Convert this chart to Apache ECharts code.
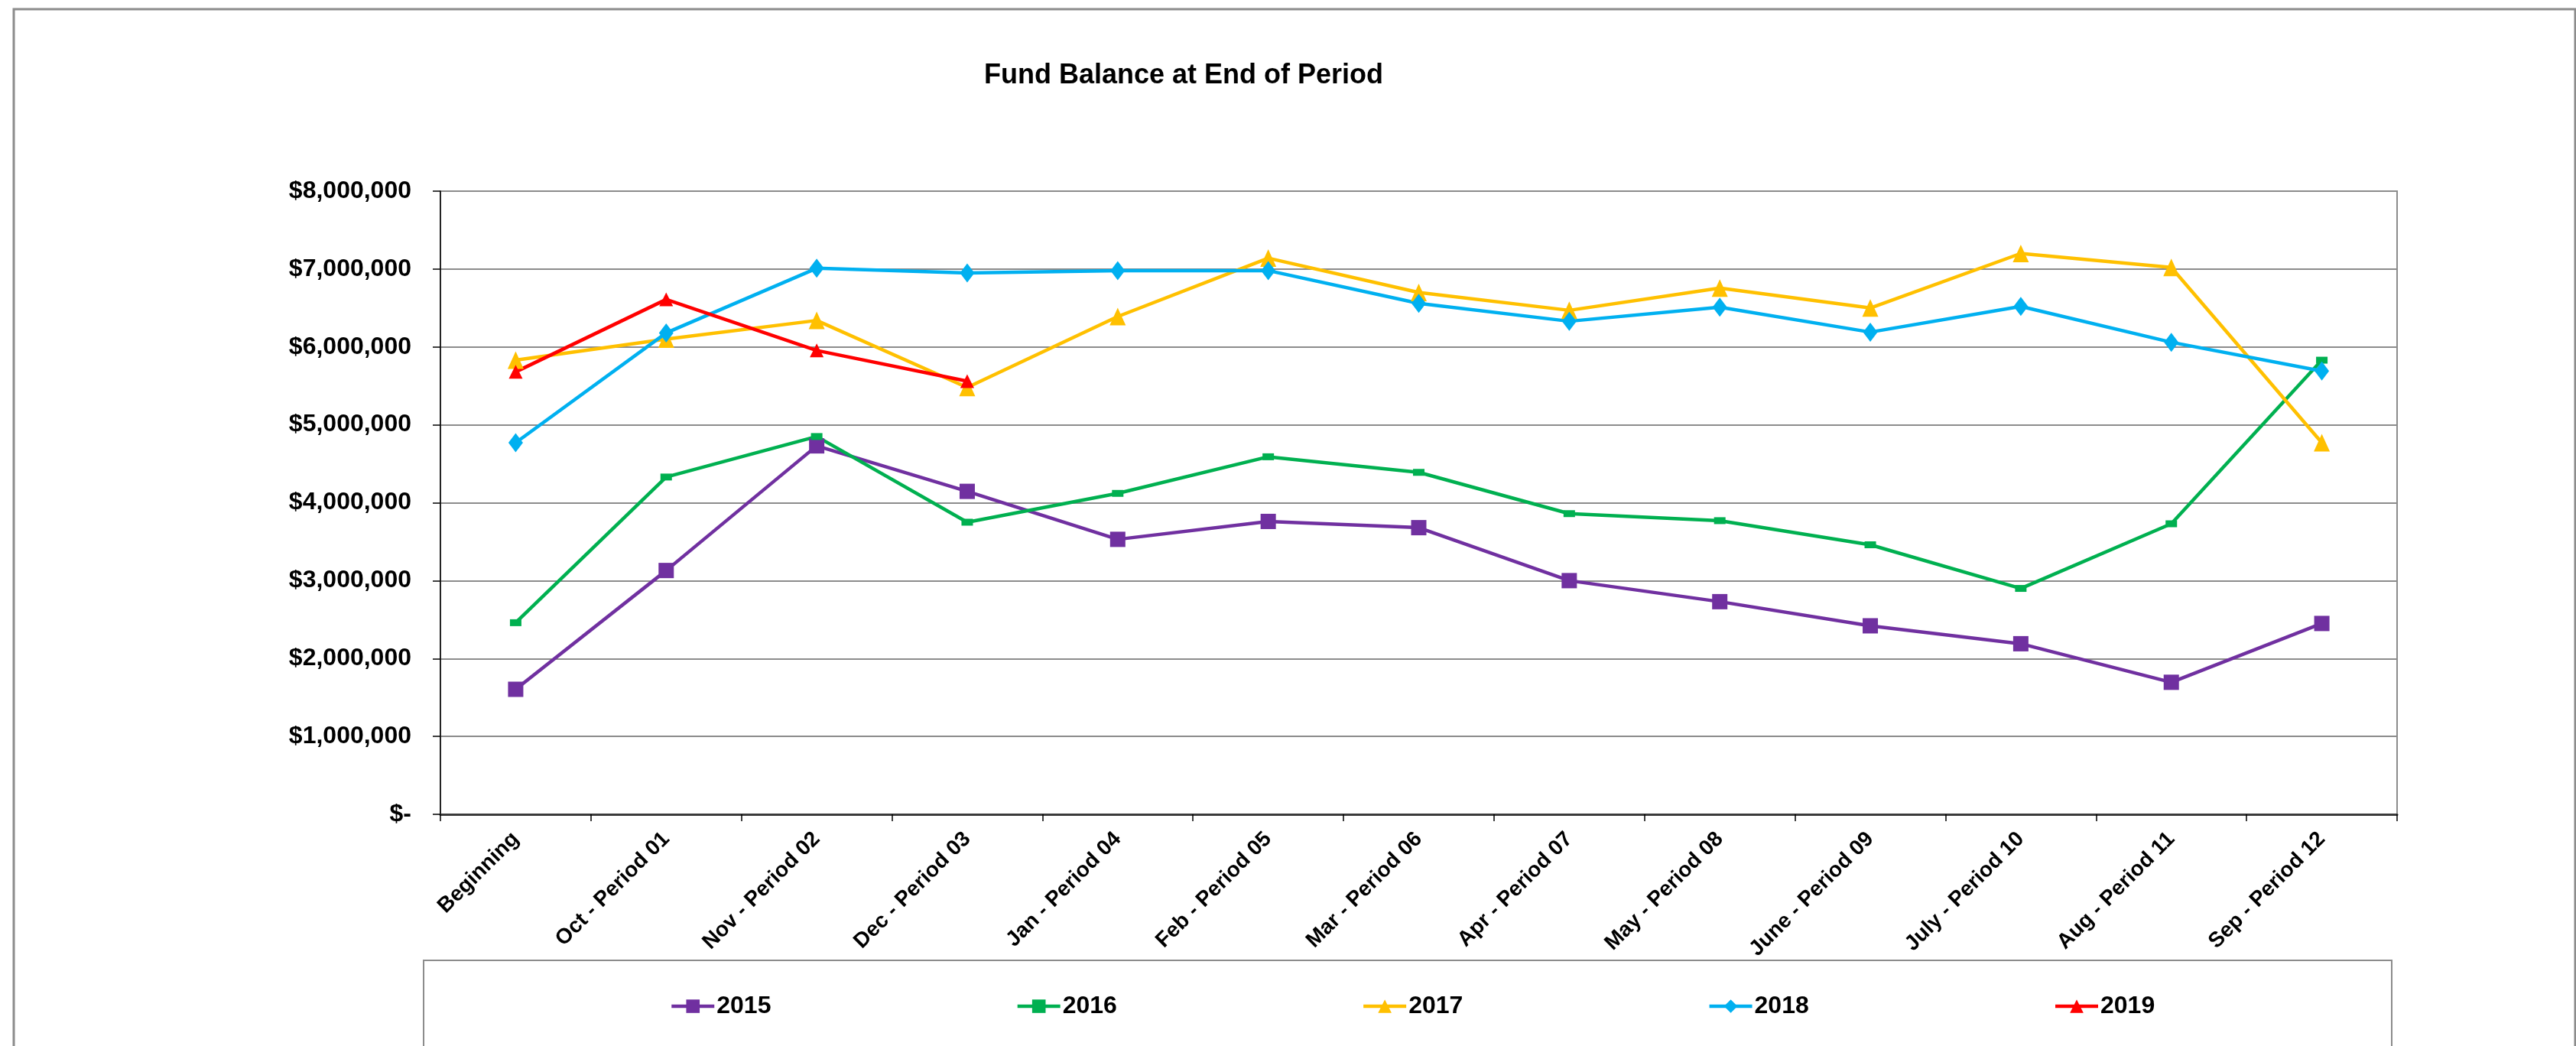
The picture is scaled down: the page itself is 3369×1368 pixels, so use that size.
<!DOCTYPE html>
<html>
<head>
<meta charset="utf-8">
<title>Fund Balance at End of Period</title>
<script src="https://cdn.jsdelivr.net/npm/echarts@6/dist/echarts.min.js"></script>
<style>
  html, body { margin: 0; padding: 0; background: #fff; }
  #chart { width: 3369px; height: 1368px; }
</style>
</head>
<body>
<div id="chart"></div>
<script>
// periods on the x axis
const categories = [
  "Beginning", "Oct - Period 01", "Nov - Period 02", "Dec - Period 03",
  "Jan - Period 04", "Feb - Period 05", "Mar - Period 06", "Apr - Period 07",
  "May - Period 08", "June - Period 09", "July - Period 10", "Aug - Period 11",
  "Sep - Period 12",
];

// fund balance per fiscal year
const fy2015 = [1605000, 3130000, 4730000, 4146000, 3530000, 3760000, 3680000, 3000000, 2730000, 2420000, 2190000, 1695000, 2450000];
const fy2016 = [2460000, 4330000, 4850000, 3750000, 4120000, 4590000, 4390000, 3860000, 3770000, 3460000, 2900000, 3730000, 5830000];
const fy2017 = [5830000, 6100000, 6340000, 5480000, 6390000, 7140000, 6700000, 6470000, 6755000, 6500000, 7200000, 7020000, 4770000];
const fy2018 = [4770000, 6180000, 7010000, 6950000, 6980000, 6980000, 6560000, 6330000, 6510000, 6190000, 6520000, 6060000, 5690000];
const fy2019 = [5680000, 6610000, 5955000, 5560000];

const yearNames = ["2015", "2016", "2017", "2018", "2019"];

const font = '"Liberation Sans", Arial, sans-serif';

function money(v) {
  if (v === 0) return "$-";
  return "$" + v.toLocaleString("en-US");
}

function lineSeries(name, data, color, symbol, symbolSize) {
  return {
    name: name,
    type: "line",
    data: data,
    symbol: symbol,
    symbolSize: symbolSize,
    showSymbol: true,
    animation: false,
    itemStyle: { color: color, borderWidth: 0 },
    lineStyle: { width: 4.5, color: color },
  };
}

const chart = echarts.init(document.getElementById("chart"));

const options = {
  backgroundColor: "#fff",
  title: {
    text: "Fund Balance at End of Period",
    left: 1287,
    top: 81,
    padding: 0,
    textStyle: { fontFamily: font, fontSize: 36, fontWeight: "bold", color: "#000" },
  },
  grid: {
    left: 576,
    right: 234,
    top: 250,
    bottom: 303,
    show: true,
    borderColor: "#8c8c8c",
    borderWidth: 2,
    backgroundColor: "transparent",
  },
  legend: {
    data: yearNames,
    left: 876,
    top: 1300,
    padding: 0,
    itemWidth: 56,
    itemHeight: 22,
    itemGap: 320,
    selectedMode: false,
    lineStyle: { width: 4.5 },
    textStyle: { fontFamily: font, fontSize: 32, fontWeight: "bold", color: "#000", padding: [0, 0, 0, -2] },
  },
  xAxis: {
    type: "category",
    data: categories,
    boundaryGap: true,
    axisLine: { lineStyle: { color: "#3a3a3a", width: 3 } },
    axisTick: { show: true, length: 9, lineStyle: { color: "#000", width: 1.5 } },
    axisLabel: {
      interval: 0,
      rotate: 45,
      margin: 28,
      fontFamily: font,
      fontSize: 28,
      fontWeight: "bold",
      color: "#000",
    },
  },
  yAxis: {
    type: "value",
    min: 0,
    max: 8000000,
    interval: 1000000,
    axisLine: { show: true, lineStyle: { color: "#000", width: 1.5 } },
    axisTick: { show: true, length: 10, lineStyle: { color: "#000", width: 1.5 } },
    splitLine: { lineStyle: { color: "#8c8c8c", width: 2 } },
    axisLabel: {
      margin: 38,
      fontFamily: font,
      fontSize: 32,
      fontWeight: "bold",
      color: "#000",
      formatter: money,
    },
  },
  graphic: [
    {
      // outer chart frame
      type: "rect",
      shape: { x: 18, y: 12, width: 3350, height: 1400 },
      style: { fill: "none", stroke: "#8c8c8c", lineWidth: 3 },
      silent: true,
    },
    {
      // legend frame
      type: "rect",
      shape: { x: 554, y: 1256, width: 2574, height: 200 },
      style: { fill: "none", stroke: "#8c8c8c", lineWidth: 2 },
      silent: true,
    },
  ],
  series: [
    lineSeries("2015", fy2015, "#7030A0", "rect", 20),
    lineSeries("2016", fy2016, "#00B050", "rect", [15, 9]),
    lineSeries("2017", fy2017, "#FFC000", "triangle", [21, 23]),
    lineSeries("2018", fy2018, "#00B0F0", "diamond", [19, 25]),
    lineSeries("2019", fy2019, "#FF0000", "triangle", [18, 18]),
  ],
};

chart.setOption(options);
</script>
</body>
</html>
